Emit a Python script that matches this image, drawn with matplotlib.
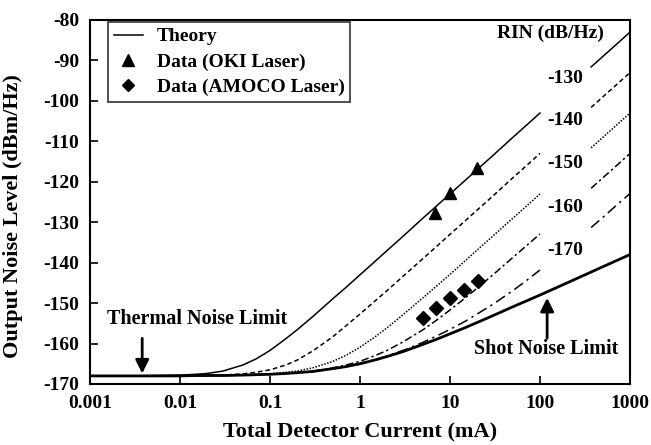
import matplotlib
matplotlib.use("Agg")
import matplotlib.pyplot as plt
from matplotlib.lines import Line2D

plt.rcParams["font.family"] = ["Liberation Serif", "DejaVu Serif"]
plt.rcParams["font.weight"] = "bold"
plt.rcParams["axes.labelweight"] = "bold"
plt.rcParams["axes.unicode_minus"] = False

# detector current (mA) where the curves were read
current_left = [0.001, 0.003, 0.01, 0.015, 0.02, 0.03, 0.05, 0.07, 0.1, 0.15, 0.2, 0.3,
                0.5, 0.7, 1, 1.5, 2, 3, 5, 7, 10, 15, 20, 30, 50, 70, 100]
current_right = [370, 500, 700, 1000]
current_shot = current_left + [200, 500, 1000]

# theory curves, output noise (dBm/Hz), one per RIN level
rin130_left = [-168.0, -168.0, -167.8, -167.6, -167.4, -166.8, -165.3, -163.8, -161.7, -158.8,
               -156.6, -153.3, -148.9, -146.1, -143.0, -139.5, -137.0, -133.5, -129.0, -126.1,
               -123.0, -119.5, -117.0, -113.5, -109.0, -106.1, -103.0]
rin140_left = [-168.0, -168.0, -167.9, -167.9, -167.9, -167.8, -167.5, -167.1, -166.5, -165.3,
               -164.1, -161.8, -158.3, -155.6, -152.7, -149.3, -146.9, -143.4, -139.0, -136.1,
               -133.0, -129.5, -127.0, -123.5, -119.0, -116.1, -113.0]
rin150_left = [-168.0, -168.0, -168.0, -167.9, -167.9, -167.9, -167.8, -167.6, -167.5, -167.1,
               -166.8, -166.0, -164.4, -162.9, -160.9, -158.2, -156.1, -152.9, -148.7, -145.9,
               -142.9, -139.4, -136.9, -133.4, -129.0, -126.1, -123.0]
rin160_left = [-168.0, -168.0, -168.0, -167.9, -167.9, -167.9, -167.8, -167.7, -167.6, -167.4,
               -167.2, -166.8, -166.0, -165.3, -164.4, -162.9, -161.7, -159.6, -156.6, -154.3,
               -151.7, -148.6, -146.3, -143.0, -138.7, -135.9, -132.9]
rin170_left = [-168.0, -168.0, -168.0, -167.9, -167.9, -167.9, -167.8, -167.7, -167.6, -167.4,
               -167.2, -166.9, -166.2, -165.7, -164.9, -163.9, -163.1, -161.7, -159.7, -158.2,
               -156.5, -154.4, -152.7, -150.3, -146.9, -144.5, -141.8]
rin130_right = [-91.6, -89.0, -86.1, -83.0]
rin140_right = [-101.6, -99.0, -96.1, -93.0]
rin150_right = [-111.6, -109.0, -106.1, -103.0]
rin160_right = [-121.6, -119.0, -116.1, -113.0]
rin170_right = [-131.3, -128.8, -125.9, -122.9]
shot_noise = [-168.0, -168.0, -168.0, -167.9, -167.9, -167.9, -167.8, -167.7, -167.6, -167.4,
              -167.2, -166.9, -166.2, -165.7, -165.0, -164.0, -163.2, -162.0, -160.2, -159.0,
              -157.6, -156.0, -154.8, -153.1, -150.9, -149.5, -148.0, -145.0, -141.0, -138.0]

rin_labels = ["-130", "-140", "-150", "-160", "-170"]
rin_label_y = [-94.4, -104.8, -115.5, -126.4, -137.1]

# measured points
oki_current = [6.8, 10, 20]
oki_noise = [-127.6, -122.7, -116.5]
amoco_current = [5.0, 7.0, 10, 14.3, 20.4]
amoco_noise = [-153.7, -151.2, -148.7, -146.7, -144.5]

fig = plt.figure(figsize=(6.51, 4.45), dpi=100)
ax = fig.add_axes([90 / 651, 1 - 384 / 445, 540 / 651, 364 / 445])

styles = ["-", (0, (3, 2)), (0, (1, 1)), (0, (5, 2, 1.5, 2)), (0, (7, 3, 1.5, 3))]
lefts = [rin130_left, rin140_left, rin150_left, rin160_left, rin170_left]
rights = [rin130_right, rin140_right, rin150_right, rin160_right, rin170_right]
for ls, yl, yr in zip(styles, lefts, rights):
    ax.plot(current_left, yl, color="black", ls=ls, lw=1.1)
    ax.plot(current_right, yr, color="black", ls=ls, lw=1.1)

ax.plot(current_shot, shot_noise, color="black", lw=2.0)

ax.plot(oki_current, oki_noise, "^", color="black", ms=8, ls="none")
ax.plot(amoco_current, amoco_noise, "D", color="black", ms=7, ls="none")

for lab, y in zip(rin_labels, rin_label_y):
    ax.text(190, y, lab, ha="center", va="center", fontsize=14)
ax.text(129, -83.2, "RIN (dB/Hz)", ha="center", va="center", fontsize=14)

arrow = dict(arrowstyle="-|>", color="black", lw=2, mutation_scale=20, shrinkA=0, shrinkB=0)
ax.annotate("", xy=(0.0038, -167.4), xytext=(0.0038, -158.7), arrowprops=arrow)
ax.text(0.0155, -154.0, "Thermal Noise Limit", ha="center", va="center", fontsize=14.5)
ax.annotate("", xy=(120, -148.7), xytext=(120, -158.7), arrowprops=arrow)
ax.text(118, -161.4, "Shot Noise Limit", ha="center", va="center", fontsize=14.5)

ax.set_xscale("log")
ax.set_xlim(0.001, 1000)
ax.set_ylim(-170, -80)
ax.set_xticks([0.001, 0.01, 0.1, 1, 10, 100, 1000])
ax.set_xticklabels(["0.001", "0.01", "0.1", "1", "10", "100", "1000"])
ax.set_yticks(range(-170, -79, 10))
ax.set_yticklabels([str(v) for v in range(-170, -79, 10)])
ax.minorticks_off()
ax.tick_params(direction="in", length=6, width=1.2, labelsize=14, pad=8)
for s in ax.spines.values():
    s.set_linewidth(1.5)

ax.set_xlabel("Total Detector Current (mA)", fontsize=16, labelpad=7)
ax.set_ylabel("Output Noise Level (dBm/Hz)", fontsize=16)
ax.yaxis.set_label_coords(-0.125, 0.46)

handles = [Line2D([], [], color="black", lw=1.1),
           Line2D([], [], marker="^", color="black", ls="none", ms=8),
           Line2D([], [], marker="D", color="black", ls="none", ms=6)]
leg = ax.legend(handles, ["Theory", "Data (OKI Laser)", "Data (AMOCO Laser)"],
                loc="upper left", bbox_to_anchor=(18 / 540, 362 / 364), fontsize=14,
                frameon=True, fancybox=False, edgecolor="black", handlelength=1.5,
                handletextpad=0.7, labelspacing=0.4, borderpad=0.3, borderaxespad=0)
leg.get_frame().set_linewidth(1.2)

fig.savefig("out.png", dpi=100)
